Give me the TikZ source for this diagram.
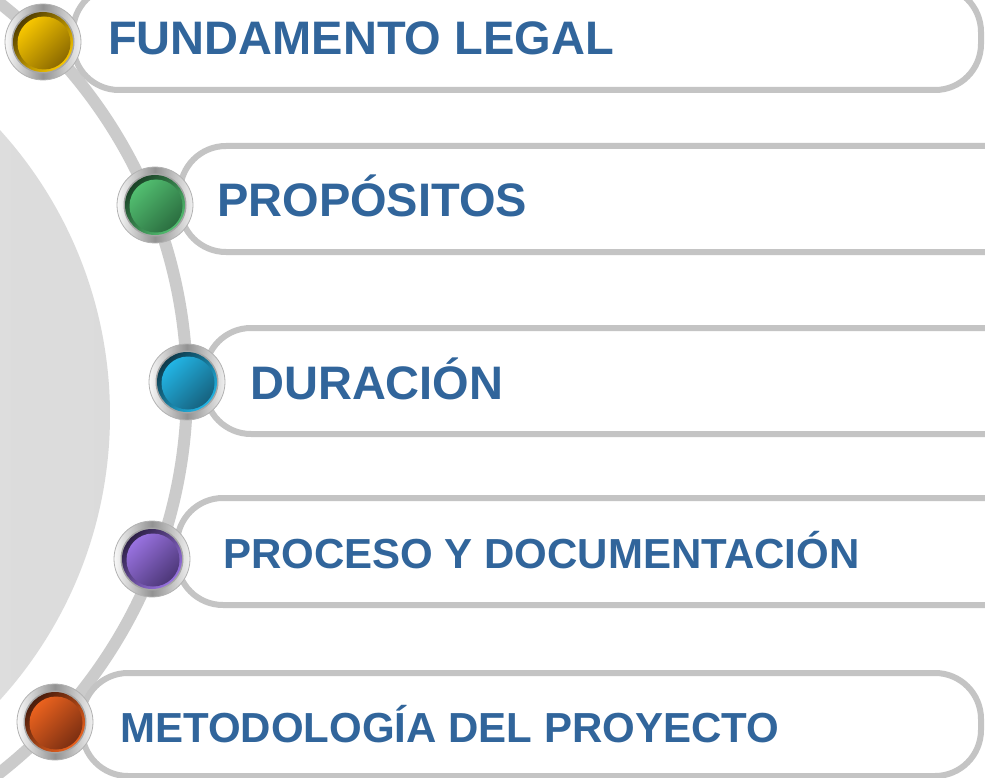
\documentclass[tikz,border=0pt]{standalone}
\usepackage{fontspec}
\setmainfont{Liberation Sans}
\usepackage{tikz}
\usetikzlibrary{calc}
\definecolor{textblue}{HTML}{31659B}
\definecolor{linegray}{HTML}{C4C4C4}
\definecolor{arcgray}{HTML}{CBCBCB}
\definecolor{ylwhi}{HTML}{F7C600}
\definecolor{ylwlo}{HTML}{8C6A00}
\definecolor{grnhi}{HTML}{52BE70}
\definecolor{grnlo}{HTML}{2B6E40}
\definecolor{bluhi}{HTML}{22B4E4}
\definecolor{blulo}{HTML}{16627F}
\definecolor{purhi}{HTML}{9872E0}
\definecolor{purlo}{HTML}{4D3778}
\definecolor{orghi}{HTML}{EA621E}
\definecolor{orglo}{HTML}{7C2F12}
\tikzset{
  bar/.style={draw=linegray, line width=6pt, fill=white, rounded corners=46pt},
  bigtitle/.style={anchor=base west, inner sep=0pt, text=textblue,
    font=\bfseries\fontsize{47}{56}\selectfont},
  smalltitle/.style={bigtitle, font=\bfseries\fontsize{42}{50}\selectfont}
}

\begin{document}
\begin{tikzpicture}[x=1pt,y=-1pt]
\useasboundingbox (0,0) rectangle (985,778);
\clip (0,0) rectangle (985,778);
\fill[white] (0,0) rectangle (985,778);
% background disc and arc
\shade[left color=gray!20, right color=gray!28] (-314,415) circle (424pt);
\draw[arcgray, line width=12pt] (-302,388) circle (489pt);
% bars
\draw[bar] (73,-14) rectangle (981,90);
\draw[bar] (180,146) rectangle (1100,252);
\draw[bar] (205,328) rectangle (1100,434);
\draw[bar] (177,498) rectangle (1100,605);
\draw[bar] (82,673) rectangle (981,776);
% buttons
\foreach \cx/\cy/\hi/\lo in {43/42/ylwhi/ylwlo, 155/205/grnhi/grnlo,
    187/382/bluhi/blulo, 152/559/purhi/purlo, 55/722/orghi/orglo}{
  \shade[left color=gray!5, right color=gray!12, middle color=gray!85,
    draw=gray!60, line width=0.8pt] (\cx,\cy) circle (38pt);
  \fill[gray!70] (\cx,\cy) circle (31.5pt);
  \shade[top color=\lo!60!black, bottom color=\hi, shading angle=45] (\cx,\cy) circle (30pt);
  \shade[top color=\hi, bottom color=\lo, shading angle=45] (\cx+1,\cy+1) circle (26.5pt);
}
% titles
\node[bigtitle] (legal) at (108,55) {FUNDAMENTO LEGAL};
\node[bigtitle] (prop) at (217,217) {PROPÓSITOS};
\node[bigtitle] (dur) at (250,399) {DURACIÓN};
\node[smalltitle] (proc) at (223,568) {PROCESO Y DOCUMENTACIÓN};
\node[smalltitle] (metod) at (120,742) {METODOLOGÍA DEL PROYECTO};
\end{tikzpicture}
\end{document}
